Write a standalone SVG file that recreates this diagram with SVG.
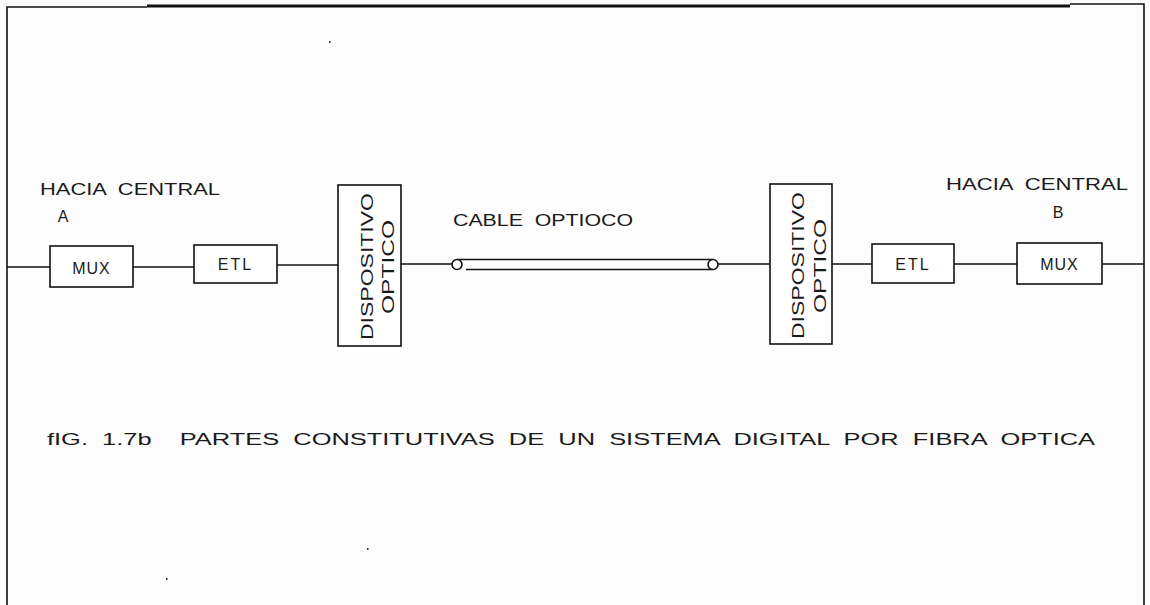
<svg xmlns="http://www.w3.org/2000/svg" width="1150" height="605" viewBox="0 0 1150 605">
<style>
.box{fill:#fff;stroke:#111;stroke-width:1.6}
.ln{fill:none;stroke:#111;stroke-width:1.6}
.t{font-family:"Liberation Sans",Arial,sans-serif;fill:#1a1a1a;font-size:16px;white-space:pre}
</style>
<rect width="1150" height="605" fill="#fdfdfd"/>
<g id="frame">
<path class="ln" d="M7,605 V7 H147" />
<path d="M147,6 H1070" stroke="#111" stroke-width="3" fill="none"/>
<path class="ln" d="M1070,4 H1144 V605"/>
</g>
<g id="connectors">
<line class="ln" x1="7" y1="267" x2="50" y2="267"/>
<line class="ln" x1="133" y1="267" x2="194" y2="267"/>
<line class="ln" x1="277" y1="265" x2="338" y2="265"/>
<line class="ln" x1="401" y1="264" x2="452" y2="264"/>
<line class="ln" x1="718" y1="264" x2="770" y2="264"/>
<line class="ln" x1="832" y1="264" x2="872" y2="264"/>
<line class="ln" x1="954" y1="264" x2="1017" y2="264"/>
<line class="ln" x1="1102" y1="264" x2="1144" y2="264"/>
</g>
<g id="cable">
<line class="ln" x1="457" y1="259.5" x2="713" y2="259.5"/>
<line class="ln" x1="466" y1="269.5" x2="713" y2="269.5"/>
<ellipse class="box" cx="457" cy="264.5" rx="5" ry="5"/>
<ellipse class="box" cx="713" cy="264.5" rx="5" ry="5"/>
<text class="t" x="453" y="226" textLength="180" lengthAdjust="spacingAndGlyphs">CABLE  OPTIOCO</text>
</g>
<g id="mux-a">
<rect class="box" x="50" y="246" width="83" height="41"/>
<text class="t" x="91.5" y="274" text-anchor="middle" font-size="17" letter-spacing="1">MUX</text>
</g>
<g id="etl-a">
<rect class="box" x="194" y="245" width="83" height="38"/>
<text class="t" x="235.5" y="270" text-anchor="middle" font-size="17" letter-spacing="2">ETL</text>
</g>
<g id="disp-a">
<rect class="box" x="338" y="185" width="63" height="161"/>
<text class="t" transform="translate(373,340) rotate(-90)" textLength="147" lengthAdjust="spacingAndGlyphs" font-size="17">DISPOSITIVO</text>
<text class="t" transform="translate(394,314) rotate(-90)" textLength="94" lengthAdjust="spacingAndGlyphs" font-size="17">OPTICO</text>
</g>
<g id="disp-b">
<rect class="box" x="770" y="184" width="62" height="160"/>
<text class="t" transform="translate(804,339) rotate(-90)" textLength="147" lengthAdjust="spacingAndGlyphs" font-size="17">DISPOSITIVO</text>
<text class="t" transform="translate(826,313) rotate(-90)" textLength="94" lengthAdjust="spacingAndGlyphs" font-size="17">OPTICO</text>
</g>
<g id="etl-b">
<rect class="box" x="872" y="244" width="82" height="39"/>
<text class="t" x="913" y="270" text-anchor="middle" font-size="17" letter-spacing="2">ETL</text>
</g>
<g id="mux-b">
<rect class="box" x="1017" y="243" width="85" height="41"/>
<text class="t" x="1059.5" y="270" text-anchor="middle" font-size="17" letter-spacing="1">MUX</text>
</g>
<g id="labels">
<text class="t" x="40" y="195" textLength="180" lengthAdjust="spacingAndGlyphs">HACIA  CENTRAL</text>
<text class="t" x="63" y="222" text-anchor="middle">A</text>
<text class="t" x="946" y="190" textLength="182" lengthAdjust="spacingAndGlyphs">HACIA  CENTRAL</text>
<text class="t" x="1058" y="218" text-anchor="middle">B</text>
<text class="t" x="47" y="445" font-size="14" textLength="1048" lengthAdjust="spacingAndGlyphs">fIG.  1.7b    PARTES  CONSTITUTIVAS  DE  UN  SISTEMA  DIGITAL  POR  FIBRA  OPTICA</text>
</g>
<g id="specks" fill="#333">
<rect x="329" y="41" width="1.5" height="2"/>
<rect x="367" y="548" width="1.5" height="2"/>
<rect x="166" y="578" width="1.5" height="2"/>
</g>
</svg>
